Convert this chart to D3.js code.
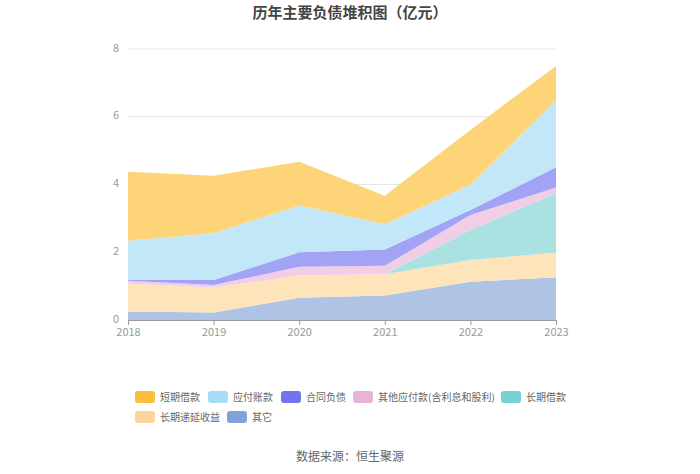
<!DOCTYPE html>
<html><head><meta charset="utf-8">
<script src="https://cdn.jsdelivr.net/npm/d3@7"></script>
<style>body{margin:0;background:#fff;} text{font-family:"Noto Sans CJK SC","Noto Sans",sans-serif;}</style>
</head><body>
<svg id="c" width="700" height="474"></svg>
<script>
const years = ["2018","2019","2020","2021","2022","2023"];
const seriesNames = ["短期借款","应付账款","合同负债","其他应付款(含利息和股利)","长期借款","长期递延收益","其它"];
const shortLoan   = [2.04, 1.70, 1.29, 0.84, 1.62, 1.02];
const payable     = [1.16, 1.38, 1.38, 0.75, 0.74, 1.97];
const contract    = [0.02, 0.15, 0.43, 0.48, 0.15, 0.60];
const otherPay    = [0.08, 0.07, 0.25, 0.25, 0.44, 0.17];
const longLoan    = [0.00, 0.00, 0.00, 0.00, 0.89, 1.75];
const deferred    = [0.83, 0.74, 0.66, 0.63, 0.64, 0.73];
const others      = [0.25, 0.22, 0.66, 0.72, 1.13, 1.26];
const yTicks = [0, 2, 4, 6, 8];
const legendColors = ["#fcbf3c","#a6dcf8","#7373ef","#e9b3d7","#76d1d4","#fdd49b","#7fa3da"];
const areaColors   = ["#fdd477","#c2e7f9","#a3a3f6","#f1cde6","#aae2e2","#fde4bb","#afc4e5"];

const valuesList = [shortLoan, payable, contract, otherPay, longLoan, deferred, others];
const svg = d3.select("#c");
const x = d3.scalePoint().domain(years).range([128, 556]);
const y = d3.scaleLinear().domain([0, 8]).range([320, 49]);

// grid
svg.append("g").selectAll("line").data(yTicks.slice(1)).join("line")
  .attr("x1", 128).attr("x2", 556).attr("y1", d => y(d)).attr("y2", d => y(d))
  .attr("stroke", "#e6e6e6").attr("stroke-width", 1);

// stack: bottom = 其它
const rows = years.map((yr, i) => {
  const o = {year: yr};
  seriesNames.forEach((n, k) => o[n] = valuesList[k][i]);
  return o;
});
const keys = seriesNames.slice().reverse();
const stacked = d3.stack().keys(keys)(rows);
const area = d3.area().x(d => x(d.data.year)).y0(d => y(d[0])).y1(d => y(d[1]));
svg.append("g").selectAll("path").data(stacked).join("path")
  .attr("d", area)
  .attr("fill", d => areaColors[seriesNames.indexOf(d.key)]);

// y axis labels
const yAxis = d3.axisLeft(y).tickValues(yTicks).tickSize(0).tickPadding(9);
const gy = svg.append("g").attr("transform", "translate(128,0)").call(yAxis);
gy.select(".domain").remove();
gy.selectAll("text").attr("fill", "#999").attr("font-size", 11).attr("dy", "0.2em");

// x axis
const xAxis = d3.axisBottom(x).tickSize(5).tickPadding(3);
const gx = svg.append("g").attr("transform", "translate(0,320)").call(xAxis);
gx.select(".domain").attr("stroke", "#999");
gx.selectAll(".tick line").attr("stroke", "#999");
gx.selectAll("text").attr("fill", "#999").attr("font-size", 11);

// title
svg.append("text").attr("x", 350).attr("y", 18).attr("text-anchor", "middle")
  .attr("font-size", 15).attr("font-weight", "bold").attr("fill", "#444")
  .text("历年主要负债堆积图（亿元）");

// legend
const legendPos = [[135,397],[208,397],[281,397],[353,397],[501,397],[135,417],[227,417]];
const lg = svg.append("g");
seriesNames.forEach((n, i) => {
  const [lx, ly] = legendPos[i];
  lg.append("rect").attr("x", lx).attr("y", ly - 6).attr("width", 20).attr("height", 12)
    .attr("rx", 3).attr("fill", legendColors[i]);
  lg.append("text").attr("x", lx + 25).attr("y", ly + 4).attr("font-size", 10)
    .attr("fill", "#666").text(n);
});

// source
svg.append("text").attr("x", 350).attr("y", 461).attr("text-anchor", "middle")
  .attr("font-size", 12).attr("fill", "#666").text("数据来源：恒生聚源");
</script>
</body></html>
